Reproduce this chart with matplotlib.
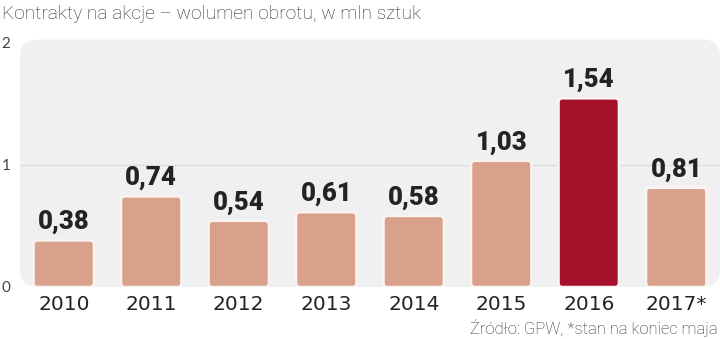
import matplotlib
matplotlib.use("Agg")
import matplotlib.pyplot as plt
from matplotlib.patches import FancyBboxPatch

years = ["2010", "2011", "2012", "2013", "2014", "2015", "2016", "2017*"]
values = [0.38, 0.74, 0.54, 0.61, 0.58, 1.03, 1.54, 0.81]
value_labels = ["0,38", "0,74", "0,54", "0,61", "0,58", "1,03", "1,54", "0,81"]
highlight = "2016"
y_ticks = [0, 1, 2]

title = "Kontrakty na akcje – wolumen obrotu, w mln sztuk"
source = "Źródło: GPW, *stan na koniec maja"

BAR = "#d9a18c"
BAR_HI = "#a5102a"
PANEL = "#f0f0f2"
TEXT = "#232323"

W, H = 720, 339
fig = plt.figure(figsize=(W / 100, H / 100), dpi=100)
fig.patch.set_facecolor("white")

ax_left, ax_right = 20, 720
ax_top, ax_bottom = 42, 287
ax = fig.add_axes([ax_left / W, (H - ax_bottom) / H,
                   (ax_right - ax_left) / W, (ax_bottom - ax_top) / H])
ax.set_facecolor("none")
ax.set_xlim(-0.5, len(years) - 0.5)
ax.set_ylim(0, 2)
for s in ax.spines.values():
    s.set_visible(False)

# rounded background panel
px_w = ax_right - ax_left
px_h = ax_bottom - ax_top
panel = FancyBboxPatch((0, 0), 1, 1.01, boxstyle="round,pad=0,rounding_size=0.025",
                       mutation_aspect=px_w / px_h, transform=ax.transAxes,
                       facecolor=PANEL, edgecolor="none", zorder=0, clip_on=False)
ax.add_patch(panel)

# gridline at 1
ax.axhline(1, color="#dedee2", lw=1.0, zorder=1)

colors = [BAR_HI if y == highlight else BAR for y in years]
bars = ax.bar(range(len(years)), values, width=0.69, color=colors, alpha=0)

# rounded bars with light outline
x_per_px = (len(years)) / px_w
y_per_px = 2 / px_h
for b, c in zip(bars, colors):
    p = FancyBboxPatch((b.get_x(), b.get_y()), b.get_width(), b.get_height(),
                       boxstyle="round,pad=0,rounding_size=%f" % (4 * x_per_px),
                       mutation_aspect=y_per_px / x_per_px,
                       facecolor=c, edgecolor="#fbf3ef", linewidth=1.8, zorder=2)
    ax.add_patch(p)

for i, (v, lab) in enumerate(zip(values, value_labels)):
    ax.text(i, v + 0.05, lab, ha="center", va="bottom", fontsize=18.5,
            fontweight="black", family="Roboto", color=TEXT, zorder=3)

ax.set_xticks(range(len(years)))
ax.set_xticklabels(years, fontsize=14.5, color=TEXT)
ax.tick_params(axis="x", length=0, pad=6)
ax.set_yticks(y_ticks)
ax.set_yticklabels([str(t) for t in y_ticks], fontsize=11, color="#444444",
                   family="Lato")
ax.tick_params(axis="y", length=0, pad=7)

fig.text(2 / W, 1 - 14 / H, title, ha="left", va="center", fontsize=13.8,
         color="#2a2a2a", family="Roboto", fontweight="light")
fig.text(718 / W, 1 - 328 / H, source, ha="right", va="center", fontsize=12,
         color="#2a2a2a", family="Roboto", fontweight="light")

fig.savefig("out.png", dpi=100)
